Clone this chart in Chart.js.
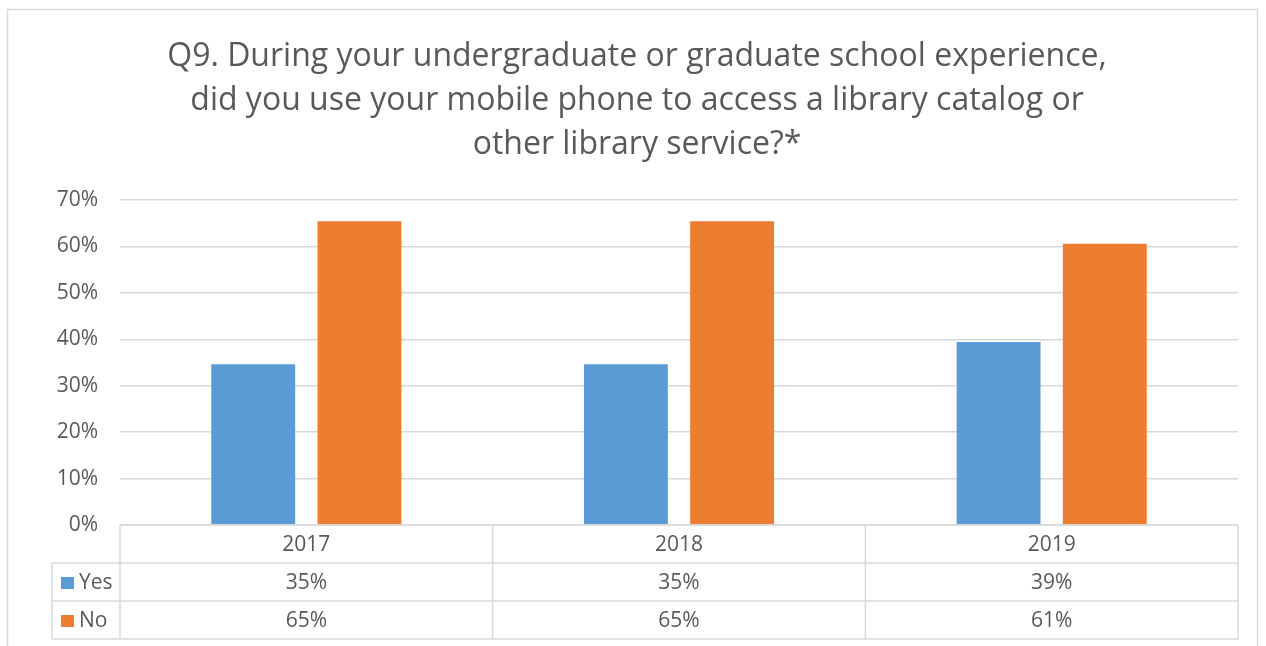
<!DOCTYPE html>
<html>
<head>
<meta charset="utf-8">
<script src="https://cdn.jsdelivr.net/npm/chart.js@4/dist/chart.umd.min.js"></script>
<style>
  html, body { margin: 0; padding: 0; background: #fff; }
  #wrap { width: 1266px; height: 646px; position: relative; }
</style>
</head>
<body>
<div id="wrap"><canvas id="chart" width="1266" height="646"></canvas></div>
<script>
const categories = ["2017", "2018", "2019"];
const yesValues = [34.6, 34.6, 39.4];
const noValues = [65.4, 65.4, 60.6];
const seriesNames = ["Yes", "No"];
const seriesColors = ["#5B9BD5", "#ED7D31"];
const titleLines = [
    "Q9. During your undergraduate or graduate school experience,",
    "did you use your mobile phone to access a library catalog or",
    "other library service?*"
];

const textColor = "#595959";
const lineColor = "#d9d9d9";

// frame + title + data table drawn around the chart area
const decorPlugin = {
    id: "decor",
    beforeDraw(chart) {
        const ctx = chart.ctx;
        ctx.save();
        ctx.strokeStyle = lineColor;
        ctx.lineWidth = 1.5;
        ctx.strokeRect(7.5, 9.5, 1250, 700);

        ctx.fillStyle = textColor;
        ctx.font = "32px 'Open Sans'";
        ctx.textAlign = "center";
        ctx.textBaseline = "alphabetic";
        const ys = [66, 110, 154];
        titleLines.forEach((t, i) => ctx.fillText(t, 637, ys[i]));
        ctx.restore();
    },
    afterDraw(chart) {
        const ctx = chart.ctx;
        const x = chart.scales.x;
        const area = chart.chartArea;
        const rowH = 38;
        const top = area.bottom;
        const legendLeft = 52;
        const step = (area.right - area.left) / categories.length;

        ctx.save();
        ctx.strokeStyle = lineColor;
        ctx.lineWidth = 1.5;
        ctx.beginPath();
        // horizontal lines
        ctx.moveTo(area.left, top); ctx.lineTo(area.right, top);
        for (let r = 1; r <= 3; r++) {
            ctx.moveTo(legendLeft, top + r * rowH);
            ctx.lineTo(area.right, top + r * rowH);
        }
        // vertical lines
        for (let c = 0; c <= categories.length; c++) {
            const px = area.left + c * step;
            ctx.moveTo(px, top); ctx.lineTo(px, top + 3 * rowH);
        }
        ctx.moveTo(legendLeft, top + rowH); ctx.lineTo(legendLeft, top + 3 * rowH);
        ctx.stroke();

        ctx.fillStyle = textColor;
        ctx.font = "21px 'Open Sans'";
        ctx.textBaseline = "middle";
        ctx.textAlign = "center";
        categories.forEach((c, i) => {
            const cx = x.getPixelForValue(i);
            ctx.fillText(c, cx, top + rowH / 2 + 1);
        });
        const rows = [yesValues, noValues];
        rows.forEach((vals, r) => {
            const cy = top + (r + 1.5) * rowH + 1;
            ctx.textAlign = "center";
            ctx.fillStyle = textColor;
            vals.forEach((v, i) => {
                ctx.fillText(Math.round(v) + "%", x.getPixelForValue(i), cy);
            });
            ctx.fillStyle = seriesColors[r];
            ctx.fillRect(61, cy - 6, 13, 12);
            ctx.fillStyle = textColor;
            ctx.textAlign = "left";
            ctx.fillText(seriesNames[r], 79, cy);
        });
        ctx.restore();
    }
};

new Chart(document.getElementById("chart"), {
    type: "bar",
    data: {
        labels: categories,
        datasets: [
            { label: seriesNames[0], data: yesValues, backgroundColor: seriesColors[0] },
            { label: seriesNames[1], data: noValues, backgroundColor: seriesColors[1] }
        ]
    },
    options: {
        responsive: false,
        animation: false,
        categoryPercentage: 0.57,
        barPercentage: 0.79,
        layout: { padding: { top: 200, right: 28, bottom: 121, left: 0 } },
        plugins: {
            legend: { display: false },
            title: { display: false },
            tooltip: { enabled: false }
        },
        scales: {
            x: { display: false },
            y: {
                min: 0,
                max: 70,
                afterFit(scale) { scale.width = 120; },
                border: { display: false },
                grid: { color: lineColor, lineWidth: 1.5, drawTicks: false },
                ticks: {
                    stepSize: 10,
                    color: textColor,
                    font: { family: "'Open Sans'", size: 21 },
                    padding: 22,
                    callback: v => v + "%"
                }
            }
        }
    },
    plugins: [decorPlugin]
});
</script>
</body>
</html>
